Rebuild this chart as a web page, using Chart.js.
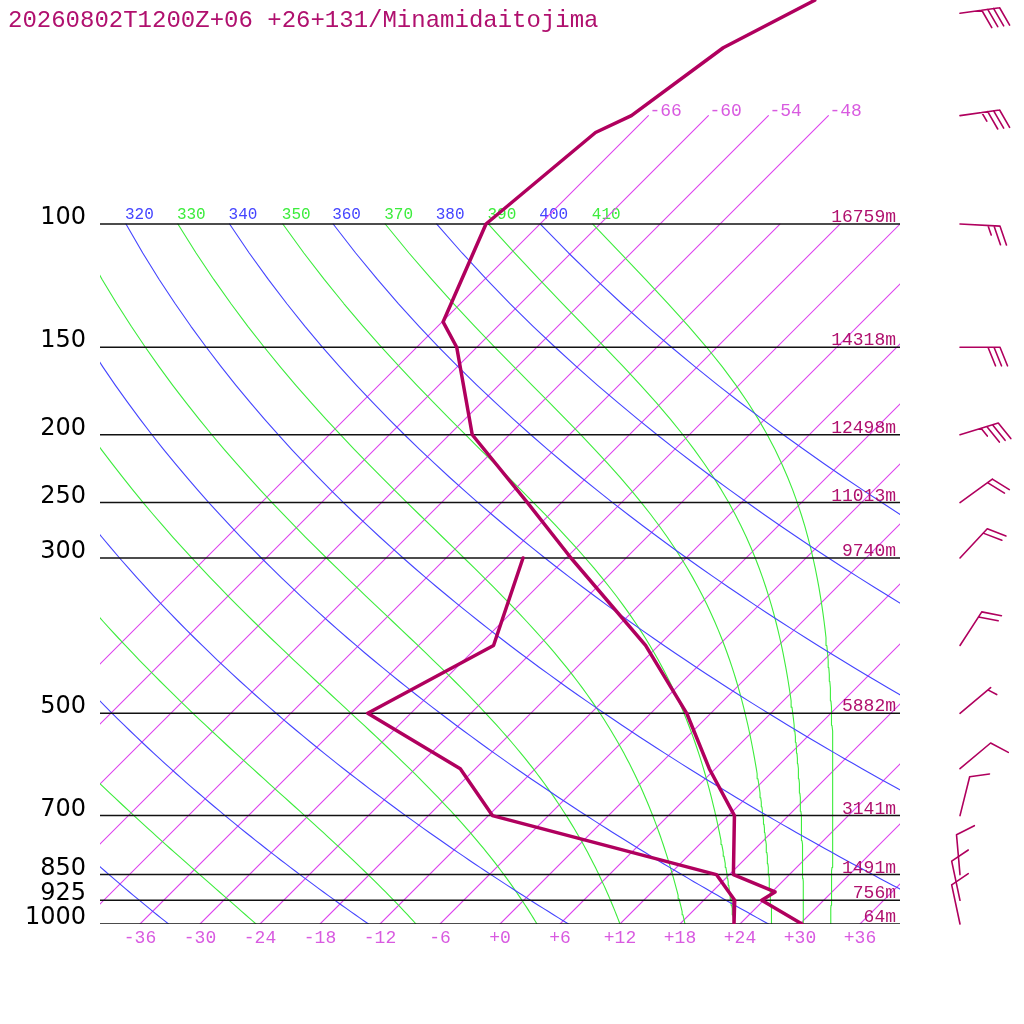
<!DOCTYPE html>
<html><head><meta charset="utf-8">
<script src="https://cdn.jsdelivr.net/npm/chart.js@4.4.1/dist/chart.umd.min.js"></script>
<style>html,body{margin:0;padding:0;background:#fff;}canvas{display:block;}</style>
</head><body>
<canvas id="c" width="1024" height="1024"></canvas>
<script>
// ===== data =====
const TITLE = "20260802T1200Z+06 +26+131/Minamidaitojima";
const pressureLevels = [100, 150, 200, 250, 300, 500, 700, 850, 925, 1000];
const pressureLabels = ["100", "150", "200", "250", "300", "500", "700", "850", "925", "1000"];
const heightLabels = ["16759m", "14318m", "12498m", "11013m", "9740m", "5882m", "3141m", "1491m", "756m", "64m"];

const tempP = [47.9, 56, 70, 74, 100, 138, 150, 200, 250, 300, 400, 500, 600, 700, 850, 900, 925, 1000];
const tempT = [-60.9, -65.3, -67.7, -69.6, -71.4, -65.9, -62.0, -51.7, -39.4, -29.5, -13.3, -2.4, 5.4, 12.6, 18.4, 24.3, 23.8, 30.2];
const dewP = [300, 400, 500, 600, 700, 850, 925, 1000];
const dewT = [-34.3, -28.5, -34.3, -19.5, -11.6, 16.7, 21.1, 23.4];

const windP = [50, 70, 100, 150, 200, 250, 300, 400, 500, 600, 700, 850, 925, 1000];
const windDir = [82, 82, 93, 90, 73, 54, 43, 33, 50, 50, 14, 355, 348, 348];
const windKt = [40, 35, 25, 30, 35, 20, 20, 20, 5, 10, 10, 10, 10, 10];

const isoTemps = [-66, -60, -54, -48, -42, -36, -30, -24, -18, -12, -6, 0, 6, 12, 18, 24, 30, 36];
const isoLabelTemps = [-66, -60, -54, -48];
const isoLabelText = ["-66", "-60", "-54", "-48"];
const bottomTemps = [-36, -30, -24, -18, -12, -6, 0, 6, 12, 18, 24, 30, 36];
const bottomText = ["-36", "-30", "-24", "-18", "-12", "-6", "+0", "+6", "+12", "+18", "+24", "+30", "+36"];

const dryThetas = [240, 260, 280, 300, 320, 340, 360, 380, 400];
const moistLabels = [250, 270, 290, 310, 330, 350, 370, 390, 410];
const moistBaseT = [-24.4, -8.4, 3.7, 12.0, 18.5, 23.4, 27.2, 30.35, 33.05];

// ===== styles =====
const SND = "#b0005e";
const TXT = "#b0106e";
const ISO = "#dd44ee";
const ISOTXT = "#d85ae0";
const BLUE = "#4444ff";
const GREEN = "#3cec3c";
const SKEW = 30.4;            // skew (deg C per ln-pressure unit)
const YMIN = 1000 * Math.exp(-924 / 304);

function skewX(T, p) { return T + SKEW * Math.log(1000 / p); }

function dryCurve(theta) {
  const pts = [];
  for (let p = 1000; p >= 100; p -= 10) {
    const T = theta * Math.pow(p / 1000, 0.2857) - 273.15;
    pts.push({ x: skewX(T, p), y: p });
  }
  return pts;
}
function moistLapse(p, T) {
  const Rd = 287.04, cp = 1005.7, Lv = 2.501e6, eps = 0.622;
  const es = 6.112 * Math.exp(17.67 * (T - 273.15) / (T - 29.65));
  const rs = eps * es / (p - es);
  return (Rd * T + Lv * rs) / (cp + Lv * Lv * rs * eps / (Rd * T * T)) / p;
}
function moistCurve(t0) {
  const pts = [];
  let T = t0 + 273.15;
  const h = -1;
  for (let p = 1000; p >= 100; p += h) {
    if (Math.round(p) % 10 === 0) pts.push({ x: skewX(T - 273.15, p), y: p });
    const k1 = moistLapse(p, T);
    const k2 = moistLapse(p + h / 2, T + h / 2 * k1);
    const k3 = moistLapse(p + h / 2, T + h / 2 * k2);
    const k4 = moistLapse(p + h, T + h * k3);
    T += h / 6 * (k1 + 2 * k2 + 2 * k3 + k4);
  }
  return pts;
}

function lineSet(data, color, width, order) {
  return { data, borderColor: color, backgroundColor: color, borderWidth: width, order,
           showLine: true, pointRadius: 0, pointHoverRadius: 0, fill: false, tension: 0,
           borderJoinStyle: 'round', borderCapStyle: 'round' };
}

const datasets = [];
datasets.push(lineSet(tempP.map((p, i) => ({ x: skewX(tempT[i], p), y: p })), SND, 3.5, 0));
datasets.push(lineSet(dewP.map((p, i) => ({ x: skewX(dewT[i], p), y: p })), SND, 3.5, 0));
pressureLevels.forEach(p => datasets.push(lineSet([{ x: -40, y: p }, { x: 40, y: p }], "#111111", 1.5, 1)));
const dryData = dryThetas.map(th => dryCurve(th));
dryData.forEach(d => datasets.push(lineSet(d, BLUE, 1.1, 3)));
const moistData = moistBaseT.map(t => moistCurve(t));
moistData.forEach(d => datasets.push(lineSet(d, GREEN, 1.1, 3)));
isoTemps.forEach(t => {
  const top = isoLabelTemps.includes(t) ? 70 : 100;
  datasets.push(lineSet([{ x: skewX(t, 1000), y: 1000 }, { x: skewX(t, 500), y: 500 }, { x: skewX(t, top), y: top }], ISO, 1.1, 3));
});

const MONO = "'Liberation Mono', 'DejaVu Sans Mono', monospace";

const skewPlugin = {
  id: 'skewLabels',
  beforeDatasetsDraw(chart) {
    const { ctx, chartArea, scales } = chart;
    ctx.save();
    ctx.beginPath();
    ctx.rect(chartArea.left, 0, chartArea.right - chartArea.left, chartArea.bottom);
    ctx.clip();
    ctx.font = "16px " + MONO;
    ctx.textAlign = "left";
    ctx.textBaseline = "alphabetic";
    const y100 = scales.y.getPixelForValue(100) - 5;
    dryThetas.forEach((th, i) => {
      const pt = dryData[i][dryData[i].length - 1];
      ctx.fillStyle = BLUE;
      ctx.fillText(String(th), scales.x.getPixelForValue(pt.x) - 1, y100);
    });
    moistLabels.forEach((th, i) => {
      const pt = moistData[i][moistData[i].length - 1];
      ctx.fillStyle = GREEN;
      ctx.fillText(String(th), scales.x.getPixelForValue(pt.x) - 1, y100);
    });
    ctx.restore();
  },
  afterDraw(chart) {
    const { ctx, scales } = chart;
    const xs = scales.x, ys = scales.y;
    ctx.save();
    ctx.fillStyle = TXT;
    ctx.font = "24px " + MONO;
    ctx.textAlign = "left";
    ctx.textBaseline = "alphabetic";
    ctx.fillText(TITLE, 8, 27);
    ctx.fillStyle = "#000";
    ctx.font = "24px 'DejaVu Sans', sans-serif";
    ctx.textAlign = "right";
    pressureLevels.forEach((p, i) => ctx.fillText(pressureLabels[i], 86, ys.getPixelForValue(p)));
    ctx.fillStyle = TXT;
    ctx.font = "18px " + MONO;
    pressureLevels.forEach((p, i) => ctx.fillText(heightLabels[i], 896, ys.getPixelForValue(p) - 2));
    ctx.fillStyle = ISOTXT;
    ctx.textAlign = "left";
    isoLabelTemps.forEach((t, i) => ctx.fillText(isoLabelText[i], xs.getPixelForValue(skewX(t, 70)) + 1, ys.getPixelForValue(70)));
    ctx.textAlign = "center";
    bottomTemps.forEach((t, i) => ctx.fillText(bottomText[i], xs.getPixelForValue(skewX(t, 1000)), 943));
    ctx.strokeStyle = SND;
    ctx.lineWidth = 1.6;
    ctx.lineCap = "round";
    windP.forEach((p, i) => {
      const y0 = ys.getPixelForValue(p), x0 = 960;
      const d = windDir[i] * Math.PI / 180;
      const ux = Math.sin(d), uy = -Math.cos(d);
      const vx = -uy, vy = ux;
      const L = 40, sp = 6, a = 22 * Math.PI / 180;
      const fx = vx * Math.cos(a) + ux * Math.sin(a), fy = vy * Math.cos(a) + uy * Math.sin(a);
      const tx = x0 + ux * L, ty = y0 + uy * L;
      ctx.beginPath();
      ctx.moveTo(x0, y0); ctx.lineTo(tx, ty);
      const full = Math.floor(windKt[i] / 10), half = (windKt[i] % 10) >= 5;
      for (let k = 0; k < full; k++) {
        const bx = tx - ux * sp * k, by = ty - uy * sp * k;
        ctx.moveTo(bx, by); ctx.lineTo(bx + fx * 20, by + fy * 20);
      }
      if (half) {
        const k = full === 0 ? 0.6 : full;
        const bx = tx - ux * sp * k, by = ty - uy * sp * k;
        ctx.moveTo(bx, by); ctx.lineTo(bx + fx * 10, by + fy * 10);
      }
      ctx.stroke();
    });
    ctx.restore();
  }
};

new Chart(document.getElementById('c'), {
  type: 'scatter',
  data: { datasets },
  options: {
    responsive: false,
    animation: false,
    devicePixelRatio: 1,
    layout: { padding: { left: 100, right: 124, top: 0, bottom: 100 } },
    plugins: { legend: { display: false }, tooltip: { enabled: false }, title: { display: false }, colors: { enabled: false } },
    scales: {
      x: { type: 'linear', min: -40, max: 40, display: false },
      y: { type: 'logarithmic', min: YMIN, max: 1000, reverse: true, display: false, bounds: 'data' }
    }
  },
  plugins: [skewPlugin]
});
</script>
</body></html>
